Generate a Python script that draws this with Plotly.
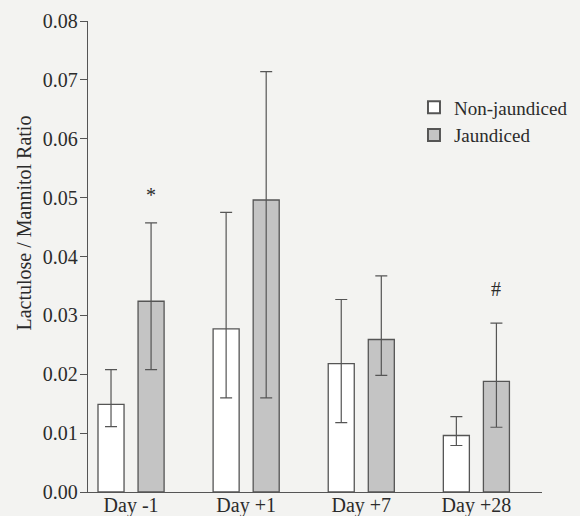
import plotly.graph_objects as go

days = ["Day -1", "Day +1", "Day +7", "Day +28"]
non_mean = [0.0149, 0.0277, 0.0218, 0.0096]
non_upper = [0.0208, 0.0475, 0.0327, 0.0128]
non_lower = [0.0111, 0.0160, 0.0118, 0.0079]
jau_mean = [0.0324, 0.0496, 0.0259, 0.0188]
jau_upper = [0.0457, 0.0714, 0.0367, 0.0287]
jau_lower = [0.0208, 0.0160, 0.0198, 0.0110]
marks = [("Day -1", 1, 0.0505, "*"), ("Day +28", 1, 0.0344, "#")]
yticks = [0.00, 0.01, 0.02, 0.03, 0.04, 0.05, 0.06, 0.07, 0.08]
ytitle = "Lactulose / Mannitol Ratio"

FONT = "Liberation Serif"
TXT = "#2b2b2b"
LINE = "#555555"
BG = "#f3f3f1"

def err(mean, up, lo):
    return dict(type="data", symmetric=False,
                array=[u - m for u, m in zip(up, mean)],
                arrayminus=[m - l for m, l in zip(mean, lo)],
                color=LINE, thickness=1.2, width=6)

fig = go.Figure()
fig.add_trace(go.Bar(name="Non-jaundiced", x=days, y=non_mean,
                     marker=dict(color="white", line=dict(color=LINE, width=1.3)),
                     error_y=err(non_mean, non_upper, non_lower)))
fig.add_trace(go.Bar(name="Jaundiced", x=days, y=jau_mean,
                     marker=dict(color="#c4c4c4", line=dict(color=LINE, width=1.3)),
                     error_y=err(jau_mean, jau_upper, jau_lower)))

ann = []
for d, side, yv, s in marks:
    ann.append(dict(x=d, y=yv, text=s, showarrow=False, xref="x", yref="y",
                    xshift=20 if side else -20,
                    font=dict(family=FONT, size=20, color=TXT)))
# y-axis title (placed off-centre like the original figure)
ann.append(dict(x=-0.141, y=0.572, xref="paper", yref="paper", text=ytitle,
                textangle=-90, showarrow=False, xanchor="center", yanchor="middle",
                font=dict(family=FONT, size=20, color=TXT)))

fig.update_layout(
    width=580, height=516,
    margin=dict(l=88, r=38, t=21, b=24, autoexpand=False),
    paper_bgcolor=BG, plot_bgcolor=BG,
    barmode="group", bargap=0.304, bargroupgap=0.35,
    font=dict(family=FONT, size=19, color=TXT),
    showlegend=True,
    legend=dict(x=0.718, y=0.857, xanchor="left", yanchor="top",
                bgcolor="rgba(0,0,0,0)", font=dict(family=FONT, size=19, color=TXT),
                tracegroupgap=0, itemsizing="constant"),
    annotations=ann,
)
fig.update_xaxes(range=[-0.374, 3.57], showline=True, linecolor=LINE, linewidth=1.3,
                 ticks="", showgrid=False, zeroline=False, automargin=False,
                 ticklabelstandoff=-5,
                 tickfont=dict(family=FONT, size=20, color=TXT))
fig.update_yaxes(range=[0, 0.08], tickvals=yticks,
                 ticktext=[f"{v:.2f}" for v in yticks],
                 showline=True, linecolor=LINE, linewidth=1.3,
                 ticks="outside", ticklen=7, tickcolor=LINE, tickwidth=1.2,
                 showgrid=False, zeroline=False, automargin=False,
                 ticklabelstandoff=-2,
                 tickfont=dict(family=FONT, size=20, color=TXT))

fig.write_html("out.html", config={"displayModeBar": False},
               post_script="document.body.style.margin='0';"
                           "document.body.style.background='#f3f3f1';")
